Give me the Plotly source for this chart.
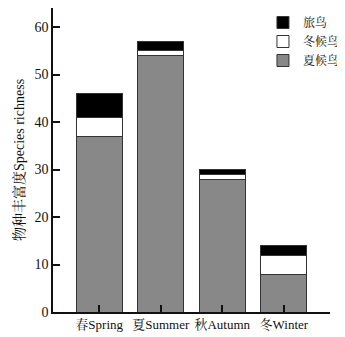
import plotly.graph_objects as go

seasons = ["春Spring", "夏Summer", "秋Autumn", "冬Winter"]
summer_residents = [37, 54, 28, 8]   # 夏候鸟
winter_residents = [4, 1, 1, 4]      # 冬候鸟
passage_migrants = [5, 2, 1, 2]      # 旅鸟
y_ticks = [0, 10, 20, 30, 40, 50, 60]

FONT = "Liberation Serif, 'Noto Serif CJK SC', 'Noto Sans CJK SC', serif"
line = dict(color="#333333", width=1)

fig = go.Figure()
fig.add_trace(go.Bar(x=seasons, y=summer_residents, name="夏候鸟",
                     marker=dict(color="#888888", line=line)))
fig.add_trace(go.Bar(x=seasons, y=winter_residents, name="冬候鸟",
                     marker=dict(color="#ffffff", line=line)))
fig.add_trace(go.Bar(x=seasons, y=passage_migrants, name="旅鸟",
                     marker=dict(color="#000000", line=line)))

# page has an 8px body margin, so the figure is sized/offset to compensate
fig.update_layout(
    barmode="stack",
    bargap=0.25,
    width=337, height=329,
    margin=dict(l=45, r=15, t=0, b=25),
    plot_bgcolor="white", paper_bgcolor="white",
    font=dict(family=FONT, size=13, color="#111111"),
    showlegend=True,
    legend=dict(x=0.758, y=1.0, xanchor="left", yanchor="top",
                traceorder="reversed", font=dict(size=12, family=FONT),
                bgcolor="rgba(0,0,0,0)", tracegroupgap=0),
    xaxis=dict(range=[-0.75, 3.75], showline=True, linecolor="#111111", linewidth=1.5,
               ticks="inside", ticklen=7, tickcolor="#111111", tickwidth=1.5,
               showgrid=False, zeroline=False, tickfont=dict(size=13),
               tickangle=0, automargin=False),
    yaxis=dict(range=[0, 64], tickvals=y_ticks, showline=True, linecolor="#111111",
               linewidth=1.5, ticks="inside", ticklen=7, tickcolor="#111111", tickwidth=1.5,
               showgrid=False, zeroline=False, tickfont=dict(size=14), automargin=True,
               title=dict(text="物种丰富度Species richness", font=dict(size=14), standoff=7)),
)

fig.write_html("out.html")
